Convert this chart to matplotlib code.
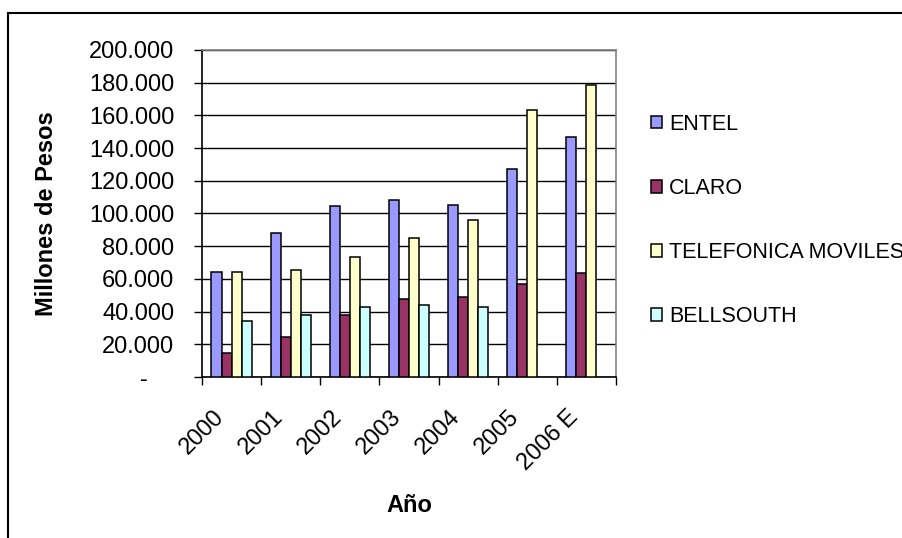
import matplotlib
matplotlib.use("Agg")
import matplotlib.pyplot as plt
import matplotlib.transforms as mtransforms
from matplotlib.lines import Line2D
from matplotlib.ticker import FuncFormatter
import numpy as np

plt.rcParams["font.family"] = ["Liberation Sans", "DejaVu Sans"]

# ---------------------------------------------------------------------
# Data (millones de pesos)
# ---------------------------------------------------------------------
years = ["2000", "2001", "2002", "2003", "2004", "2005", "2006 E"]
entel = [64500, 88000, 104500, 108500, 105500, 127000, 146500]
claro = [14500, 24500, 37700, 48000, 49000, 57000, 63500]
telefonica = [64500, 65500, 73500, 85000, 96000, 163000, 178500]
bellsouth = [34500, 37700, 43000, 44000, 43000, np.nan, np.nan]

series = [
    ("ENTEL", entel, "#9999FF"),
    ("CLARO", claro, "#993366"),
    ("TELEFONICA MOVILES", telefonica, "#FFFFCC"),
    ("BELLSOUTH", bellsouth, "#CCFFFF"),
]

# ---------------------------------------------------------------------
# Figure
# ---------------------------------------------------------------------
W, H, DPI = 902, 538, 100
fig = plt.figure(figsize=(W / DPI, H / DPI), dpi=DPI)
ax = fig.add_axes([202 / W, 1 - 377 / H, (616 - 202) / W, (377 - 50) / H])

x = np.arange(len(years))
bw = 0.17
for i, (name, vals, color) in enumerate(series):
    ax.bar(x + (i - 1.5) * bw, vals, bw, color=color, edgecolor="black",
           linewidth=1.1, label=name, zorder=3)

ax.set_xlim(-0.5, len(years) - 0.5)
ax.set_ylim(0, 200000)
ax.set_yticks(np.arange(0, 200001, 20000))
# Excel accounting style: zero shown as a dash, '.' as thousands separator
ax.yaxis.set_major_formatter(
    FuncFormatter(lambda v, p: "-    " if v == 0 else f"{int(v):,}".replace(",", "."))
)
ax.yaxis.grid(True, color="black", linewidth=1.0, zorder=0)
ax.tick_params(axis="y", direction="out", length=6, width=1, pad=14,
               labelsize=17, color="black")

# x: labels at category centres, ticks at category boundaries
ax.set_xticks(x)
ax.set_xticklabels(years, rotation=45, ha="right", va="top",
                   rotation_mode="anchor", fontsize=17)
ax.set_xticks(np.arange(-0.5, len(years)), minor=True)
ax.tick_params(axis="x", which="major", length=0, pad=21)
ax.tick_params(axis="x", which="minor", direction="out", length=6, width=1,
               color="black")
shift = mtransforms.ScaledTranslation(-19 / DPI, 0, fig.dpi_scale_trans)
for lab in ax.get_xticklabels():
    lab.set_transform(lab.get_transform() + shift)

for side in ("left", "bottom"):
    ax.spines[side].set_color("black")
    ax.spines[side].set_linewidth(1.2)
for side in ("top", "right"):
    ax.spines[side].set_color("#808080")
    ax.spines[side].set_linewidth(1.2)

ax.set_xlabel("Año", fontsize=17, fontweight="bold")
ax.xaxis.set_label_coords(0.5, -(505 - 377) / (377 - 50), transform=ax.transAxes)
ax.xaxis.label.set_va("center")
ax.set_ylabel("Millones de Pesos", fontsize=17, fontweight="bold")
ax.yaxis.set_label_coords(-(202 - 47) / (616 - 202), 0.5, transform=ax.transAxes)
ax.yaxis.label.set_va("center")

fig.legend(
    loc="upper left",
    bbox_to_anchor=(651 / W, 1 - 114 / H),
    frameon=False,
    fontsize=15.5,
    handlelength=0.5,
    handleheight=0.5,
    handletextpad=0.35,
    labelspacing=2.0,
    borderpad=0,
    borderaxespad=0,
)

# chart-area border (only top and left visible in the crop)
fig.add_artist(Line2D([8 / W, 8 / W], [0, 1 - 12.5 / H], color="black",
                      linewidth=1.5, transform=fig.transFigure))
fig.add_artist(Line2D([8 / W, 1], [1 - 12.5 / H, 1 - 12.5 / H], color="black",
                      linewidth=1.5, transform=fig.transFigure))

fig.savefig("out.png", dpi=DPI)
plt.close(fig)
